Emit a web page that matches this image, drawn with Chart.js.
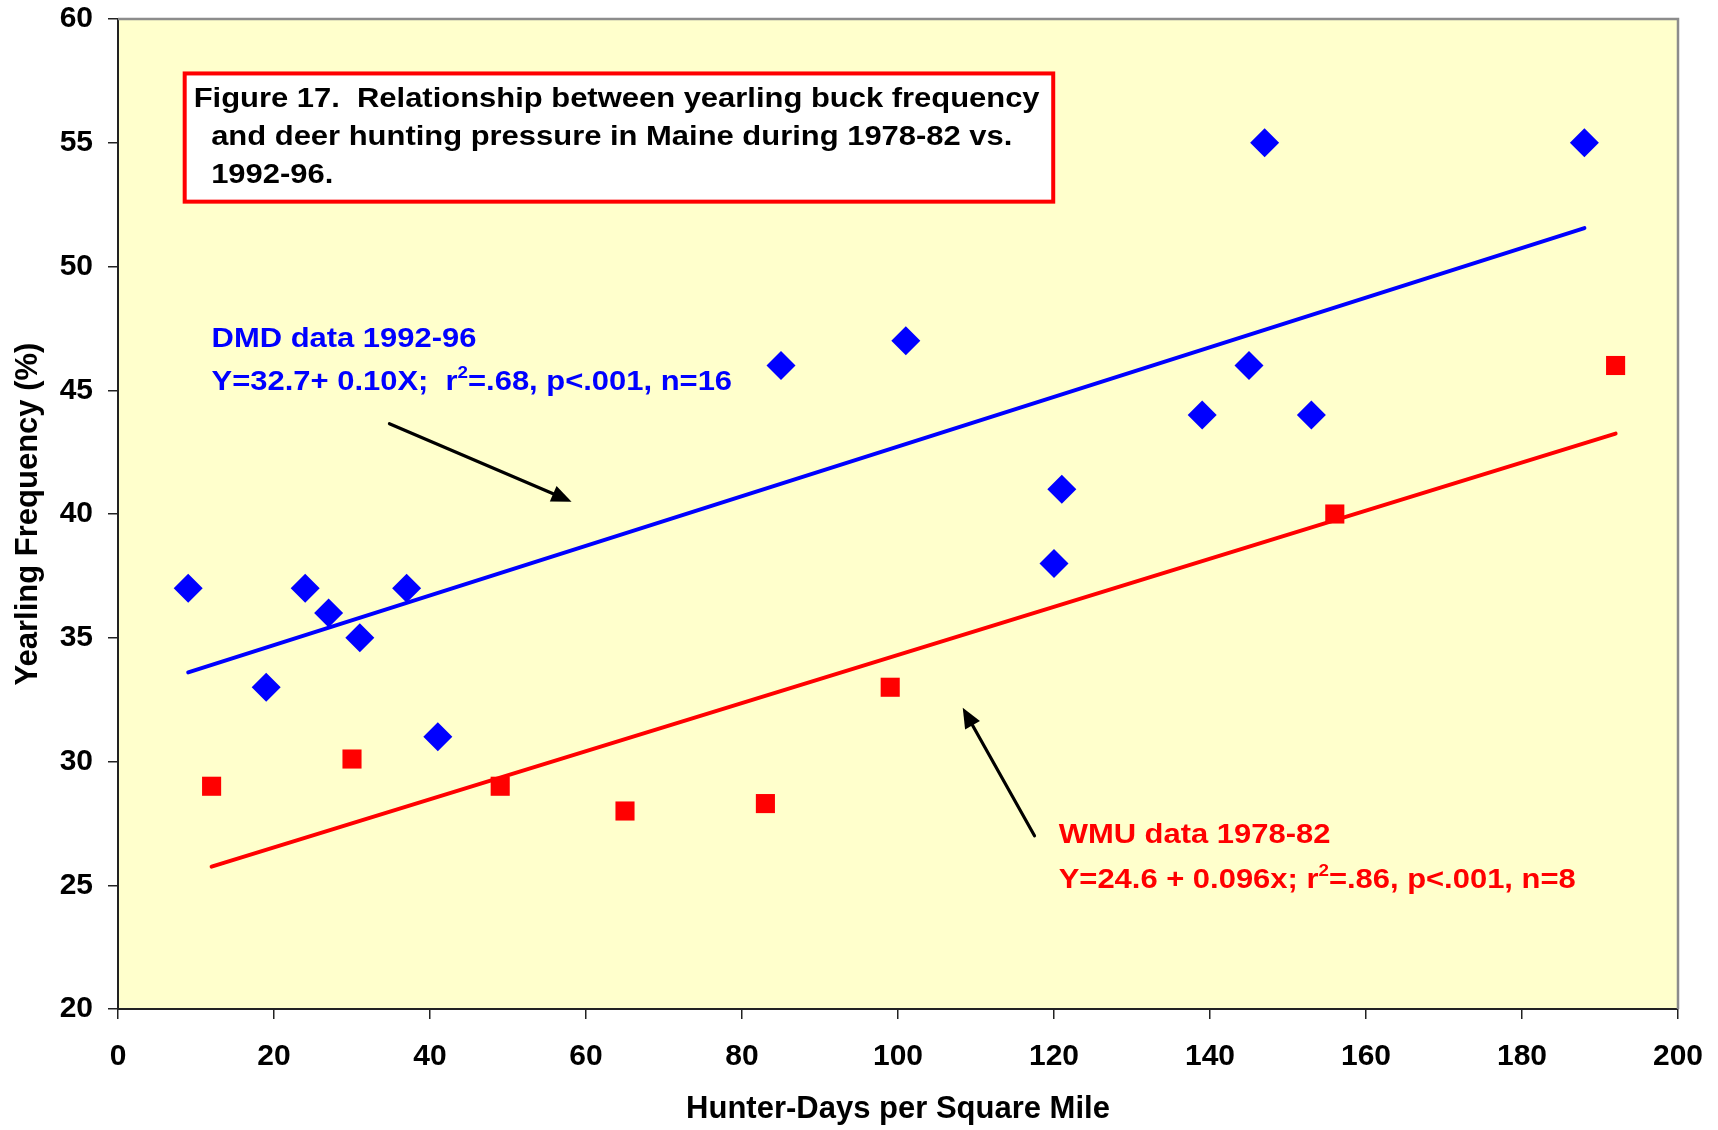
<!DOCTYPE html>
<html>
<head>
<meta charset="utf-8">
<script src="https://cdn.jsdelivr.net/npm/chart.js@4.4.1/dist/chart.umd.min.js"></script>
<style>
  html, body { margin: 0; padding: 0; background: #fff; }
  #wrap { width: 1718px; height: 1130px; }
</style>
</head>
<body>
<div id="wrap"><canvas id="deerChart" width="1718" height="1130"></canvas></div>
<script>
// DMD data 1992-96 (blue diamonds)
var dmdX = [9, 19, 24, 27, 31, 37, 41, 85, 101, 120, 121, 139, 145, 147, 153, 188]
var dmdY = [37, 33, 37, 36, 35, 37, 31, 46, 47, 38, 41, 44, 46, 55, 44, 55]
// WMU data 1978-82 (red squares)
var wmuX = [12, 30, 49, 65, 83, 99, 156, 192]
var wmuY = [29, 30.1, 29, 28, 28.3, 33, 40, 46]
// regression lines, end points
var dmdFitX = [9, 188]
var dmdFitY = [33.6, 51.55]
var wmuFitX = [12, 192]
var wmuFitY = [25.75, 43.25]
// axis ticks
var xTicks = [0, 20, 40, 60, 80, 100, 120, 140, 160, 180, 200]
var yTicks = [20, 25, 30, 35, 40, 45, 50, 55, 60]

var FONT = '"Liberation Sans", Arial, Helvetica, sans-serif'

function pts(xs, ys) {
   return xs.map(function (x, i) { return { x: x, y: ys[i] } })
}

// text is drawn a bit wide, like the original
var SX = 1.105

function drawRuns(c, runs, x, y, color) {
   c.save()
   c.translate(x, y)
   c.scale(SX, 1)
   c.fillStyle = color
   c.textBaseline = "alphabetic"
   c.textAlign = "left"
   var cx = 0
   runs.forEach(function (r) {
      c.font = "bold " + (r.sup ? 17 : 28) + "px " + FONT
      c.fillText(r.t, cx, r.sup ? -12 : 0)
      cx += c.measureText(r.t).width
   })
   c.restore()
}

function arrow(c, x1, y1, x2, y2) {
   var ang = Math.atan2(y2 - y1, x2 - x1)
   var len = 20, half = 8.5
   var bx = x2 - Math.cos(ang) * len, by = y2 - Math.sin(ang) * len
   c.save()
   c.strokeStyle = "#000"
   c.fillStyle = "#000"
   c.lineWidth = 3.2
   c.lineCap = "round"
   c.beginPath()
   c.moveTo(x1, y1)
   c.lineTo(bx, by)
   c.stroke()
   c.beginPath()
   c.moveTo(x2, y2)
   c.lineTo(bx + Math.sin(ang) * half, by - Math.cos(ang) * half)
   c.lineTo(bx - Math.sin(ang) * half, by + Math.cos(ang) * half)
   c.closePath()
   c.fill()
   c.restore()
}

var annotate = {
   id: "annotate",
   beforeDraw: function (chart) {
      var a = chart.chartArea, c = chart.ctx
      c.save()
      c.fillStyle = "#FFFFCC"
      c.fillRect(a.left, a.top, a.right - a.left, a.bottom - a.top)
      c.restore()
   },
   afterDraw: function (chart) {
      var a = chart.chartArea, c = chart.ctx
      var sx = chart.scales.x, sy = chart.scales.y
      function px(v) { return sx.getPixelForValue(v) }
      function py(v) { return sy.getPixelForValue(v) }

      // grey frame on top and right
      c.save()
      c.strokeStyle = "#8c8c8c"
      c.lineWidth = 2.5
      c.beginPath()
      c.moveTo(a.left, a.top)
      c.lineTo(a.right, a.top)
      c.lineTo(a.right, a.bottom)
      c.stroke()
      c.restore()

      // caption box
      var bx1 = px(8.55), by1 = py(57.8), bx2 = px(119.9), by2 = py(52.62)
      c.save()
      c.fillStyle = "#fff"
      c.fillRect(bx1, by1, bx2 - bx1, by2 - by1)
      c.strokeStyle = "#ff0000"
      c.lineWidth = 4
      c.strokeRect(bx1, by1, bx2 - bx1, by2 - by1)
      c.restore()
      drawRuns(c, [{ t: "Figure 17.  Relationship between yearling buck frequency" }], px(9.7), py(56.46), "#000")
      drawRuns(c, [{ t: "and deer hunting pressure in Maine during 1978-82 vs." }], px(11.94), py(54.89), "#000")
      drawRuns(c, [{ t: "1992-96." }], px(11.94), py(53.39), "#000")

      // DMD label
      drawRuns(c, [{ t: "DMD data 1992-96" }], px(12), py(46.76), "#0000ff")
      drawRuns(c, [{ t: "Y=32.7+ 0.10X;  r" }, { t: "2", sup: true }, { t: "=.68, p<.001, n=16" }], px(12), py(45.02), "#0000ff")

      // WMU label
      drawRuns(c, [{ t: "WMU data 1978-82" }], px(120.6), py(26.71), "#ff0000")
      drawRuns(c, [{ t: "Y=24.6 + 0.096x; r" }, { t: "2", sup: true }, { t: "=.86, p<.001, n=8" }], px(120.6), py(24.89), "#ff0000")

      // arrows
      arrow(c, px(34.8), py(43.65), px(58.15), py(40.5))
      arrow(c, px(117.5), py(27.0), px(108.3), py(32.17))
   },
}

var ctx = document.getElementById("deerChart").getContext("2d")

var chart = new Chart(ctx, {
   type: "scatter",
   data: {
      datasets: [
         {
            label: "DMD 1992-96",
            data: pts(dmdX, dmdY),
            pointStyle: "rectRot",
            pointRadius: 14.5,
            pointHoverRadius: 14.5,
            backgroundColor: "#0000ff",
            borderColor: "#0000ff",
            borderWidth: 0,
            order: 1,
         },
         {
            label: "WMU 1978-82",
            data: pts(wmuX, wmuY),
            pointStyle: "rect",
            pointRadius: 13.5,
            pointHoverRadius: 13.5,
            backgroundColor: "#ff0000",
            borderColor: "#ff0000",
            borderWidth: 0,
            order: 1,
         },
         {
            label: "DMD fit",
            data: pts(dmdFitX, dmdFitY),
            showLine: true,
            pointRadius: 0,
            borderColor: "#0000ff",
            borderWidth: 4,
            borderCapStyle: "round",
            order: 2,
         },
         {
            label: "WMU fit",
            data: pts(wmuFitX, wmuFitY),
            showLine: true,
            pointRadius: 0,
            borderColor: "#ff0000",
            borderWidth: 4,
            borderCapStyle: "round",
            order: 2,
         },
      ],
   },
   options: {
      responsive: false,
      animation: false,
      devicePixelRatio: 1,
      layout: {
         padding: { top: 19, right: 40, left: 0, bottom: 0 },
      },
      plugins: {
         legend: { display: false },
         tooltip: { enabled: false },
      },
      scales: {
         x: {
            type: "linear",
            min: 0,
            max: 200,
            afterBuildTicks: function (s) {
               s.ticks = xTicks.map(function (v) { return { value: v } })
            },
            afterFit: function (s) {
               s.height = 121
               s.paddingLeft = 0
               s.paddingRight = 0
            },
            ticks: {
               color: "#000",
               font: { family: FONT, size: 30, weight: "bold" },
               padding: 20,
               maxRotation: 0,
            },
            grid: {
               drawOnChartArea: false,
               drawTicks: true,
               tickLength: 10,
               color: "#222",
               lineWidth: 1.5,
            },
            border: { color: "#222", width: 2 },
            title: {
               display: true,
               text: "Hunter-Days per Square Mile",
               color: "#000",
               font: { family: FONT, size: 31, weight: "bold" },
               padding: { top: 0, bottom: 2 },
            },
         },
         y: {
            type: "linear",
            min: 20,
            max: 60,
            afterBuildTicks: function (s) {
               s.ticks = yTicks.map(function (v) { return { value: v } })
            },
            afterFit: function (s) {
               s.width = 118
               s.paddingTop = 0
               s.paddingBottom = 0
            },
            ticks: {
               color: "#000",
               font: { family: FONT, size: 30, weight: "bold" },
               padding: 15,
            },
            grid: {
               drawOnChartArea: false,
               drawTicks: true,
               tickLength: 10,
               color: "#222",
               lineWidth: 1.5,
            },
            border: { color: "#222", width: 2 },
            title: {
               display: true,
               text: "Yearling Frequency (%)",
               color: "#000",
               font: { family: FONT, size: 31, weight: "bold" },
               padding: { top: 10, bottom: 0 },
            },
         },
      },
   },
   plugins: [annotate],
})
</script>
</body>
</html>
